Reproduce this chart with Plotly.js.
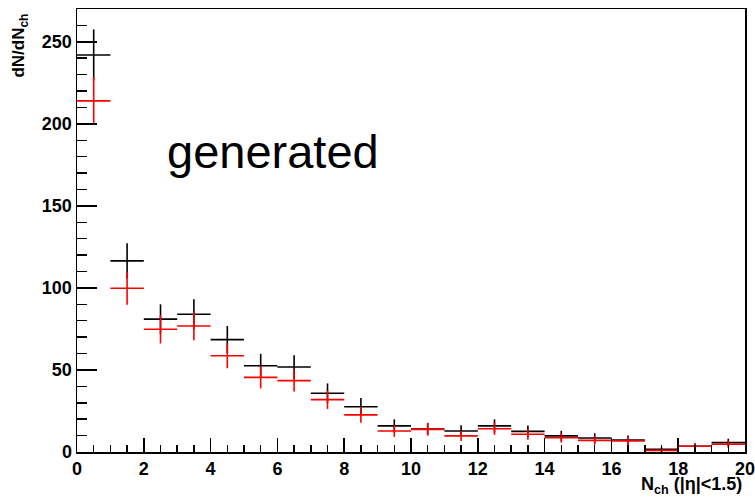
<!DOCTYPE html>
<html>
<head>
<meta charset="utf-8">
<script src="https://cdn.plot.ly/plotly-3.0.1.min.js"></script>
<style>html,body{margin:0;padding:0;background:#fff;}#chart{width:755px;height:497px;}</style>
</head>
<body>
<div id="chart"></div>
<script>
// Bin centres of N_ch (|eta|<1.5)
var binCenters = [0.5, 1.5, 2.5, 3.5, 4.5, 5.5, 6.5, 7.5, 8.5, 9.5, 10.5, 11.5, 12.5, 13.5, 14.5, 15.5, 16.5, 17.5, 18.5, 19.5];
// dN/dN_ch, black histogram
var blackValues = [242, 116.5, 81, 84, 68.5, 52.6, 51.8, 35.8, 27.6, 15.9, 14, 12.8, 15.9, 12.6, 9.8, 8.5, 7.3, 1.6, 3.5, 5.7];
// dN/dN_ch, red histogram
var redValues = [214, 99.8, 74.8, 76.8, 58.7, 45.5, 43.5, 31.9, 22.6, 12.8, 13.8, 9.8, 14.2, 10.8, 8.7, 7.1, 6.7, 1.0, 3.5, 4.7];
var labelText = "generated";

var fontFam = "Liberation Sans, Arial, sans-serif";

function histTrace(vals, color) {
  return {
    type: 'scatter',
    mode: 'markers',
    x: binCenters,
    y: vals,
    marker: {size: 1, color: color},
    error_x: {type: 'constant', value: 0.5, width: 0, thickness: 1.6, color: color},
    error_y: {type: 'sqrt', width: 0, thickness: 1.6, color: color},
    hoverinfo: 'skip',
    showlegend: false
  };
}

var data = [histTrace(blackValues, '#000000'), histTrace(redValues, '#ff0000')];

var axisCommon = {
  showgrid: false,
  zeroline: false,
  showline: true,
  linecolor: '#000',
  linewidth: 1.5,
  mirror: true,
  ticks: 'inside',
  tickcolor: '#000',
  tickwidth: 1.5,
  ticklabeloverflow: 'allow',
  tickfont: {family: fontFam, size: 18, color: '#000', weight: 'bold'}
};

var layout = {
  width: 755,
  height: 497,
  margin: {l: 77, r: 10, t: 9, b: 45},
  paper_bgcolor: '#fff',
  plot_bgcolor: '#fff',
  xaxis: Object.assign({}, axisCommon, {
    range: [0, 20],
    dtick: 2,
    tick0: 0,
    ticklen: 14,
    minor: {dtick: 0.5, tick0: 0, ticks: 'inside', ticklen: 7, tickcolor: '#000', tickwidth: 1.5, showgrid: false}
  }),
  yaxis: Object.assign({}, axisCommon, {
    range: [0, 270],
    dtick: 50,
    tick0: 0,
    ticklen: 20,
    minor: {dtick: 10, tick0: 0, ticks: 'inside', ticklen: 10, tickcolor: '#000', tickwidth: 1.5, showgrid: false}
  }),
  annotations: [
    {
      text: labelText,
      xref: 'x', yref: 'y',
      x: 2.62, y: 183,
      xanchor: 'left', yanchor: 'middle',
      showarrow: false,
      font: {family: fontFam, size: 47, color: '#000'}
    },
    {
      text: 'dN/dN<sub>ch</sub>',
      xref: 'paper', yref: 'paper',
      x: -0.0855, y: 0.994,
      xanchor: 'center', yanchor: 'top',
      textangle: -90,
      showarrow: false,
      font: {family: fontFam, size: 17, color: '#000', weight: 'bold'}
    },
    {
      text: 'N<sub>ch</sub> (|η|<1.5)',
      xref: 'paper', yref: 'paper',
      x: 0.998, y: -0.046,
      xanchor: 'right', yanchor: 'top',
      showarrow: false,
      font: {family: fontFam, size: 18, color: '#000', weight: 'bold'}
    }
  ]
};

Plotly.newPlot('chart', data, layout, {staticPlot: true, displayModeBar: false});
</script>
</body>
</html>
